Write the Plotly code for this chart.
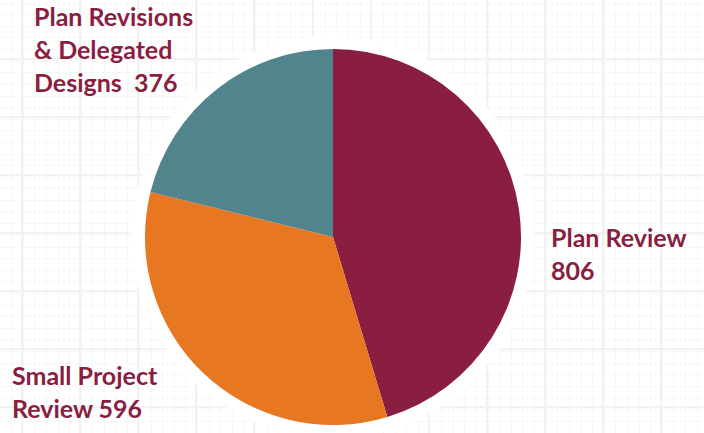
import plotly.graph_objects as go

# Permit volumes by review type
labels = ["Plan Review", "Small Project Review", "Plan Revisions & Delegated Designs"]
values = [806, 596, 376]
colors = ["#8A1E41", "#E87722", "#52848E"]

# Label text lines for each slice (value appended to the last line)
label_lines = [
    ["Plan Review", "{v}"],
    ["Small Project", "Review {v}"],
    ["Plan Revisions", "& Delegated", "Designs  {v}"],
]
# Anchor of the first line (left x, baseline y from top) in pixels
label_anchor = [(549, 248), (10, 386), (32, 27)]

W, H = 704, 433
cx, cy, r = 333, 237, 188
line_gap = 33
text_color = "#8A1E41"

fig = go.Figure()

# Invisible trace so the graph-paper grid is drawn
fig.add_trace(go.Scatter(x=[0, W], y=[0, H], mode="markers",
                         marker=dict(opacity=0), hoverinfo="skip",
                         showlegend=False))

fig.add_trace(go.Pie(
    labels=labels, values=values, sort=False, direction="clockwise",
    rotation=0, marker=dict(colors=colors, line=dict(width=0)),
    textinfo="none", showlegend=False,
    domain=dict(x=[(cx - r) / W, (cx + r) / W],
                y=[(H - cy - r) / H, (H - cy + r) / H]),
))

# White halo around the pie, above the grid and beneath the slices
fig.add_shape(type="circle", xref="x", yref="y", layer="between",
              x0=cx - r - 13, x1=cx + r + 13,
              y0=H - cy - r - 13, y1=H - cy + r + 13,
              fillcolor="white", line=dict(width=0))

for lines, val, (ax, ay) in zip(label_lines, values, label_anchor):
    for i, ln in enumerate(lines):
        fig.add_annotation(
            x=ax / W, y=1 - (ay + i * line_gap) / H, xref="paper", yref="paper",
            text=ln.format(v=val), showarrow=False,
            xanchor="left", yanchor="bottom", yshift=-6,
            font=dict(family="Lato", size=25, color=text_color, weight=700),
        )

fig.update_xaxes(range=[0, W], showticklabels=False, zeroline=False,
                 showline=False, showgrid=True, gridcolor="#f2f2f2",
                 gridwidth=2, tick0=22, dtick=58.1,
                 minor=dict(showgrid=True, dtick=11.62, gridcolor="#f7f7f7",
                            gridwidth=1))
fig.update_yaxes(range=[0, H], showticklabels=False, zeroline=False,
                 showline=False, showgrid=True, gridcolor="#f2f2f2",
                 gridwidth=2, tick0=200, dtick=58.1,
                 minor=dict(showgrid=True, dtick=11.62, gridcolor="#f7f7f7",
                            gridwidth=1))

fig.update_layout(width=W, height=H, margin=dict(l=0, r=0, t=0, b=0),
                  paper_bgcolor="white", plot_bgcolor="white")

fig.write_html("out.html")
